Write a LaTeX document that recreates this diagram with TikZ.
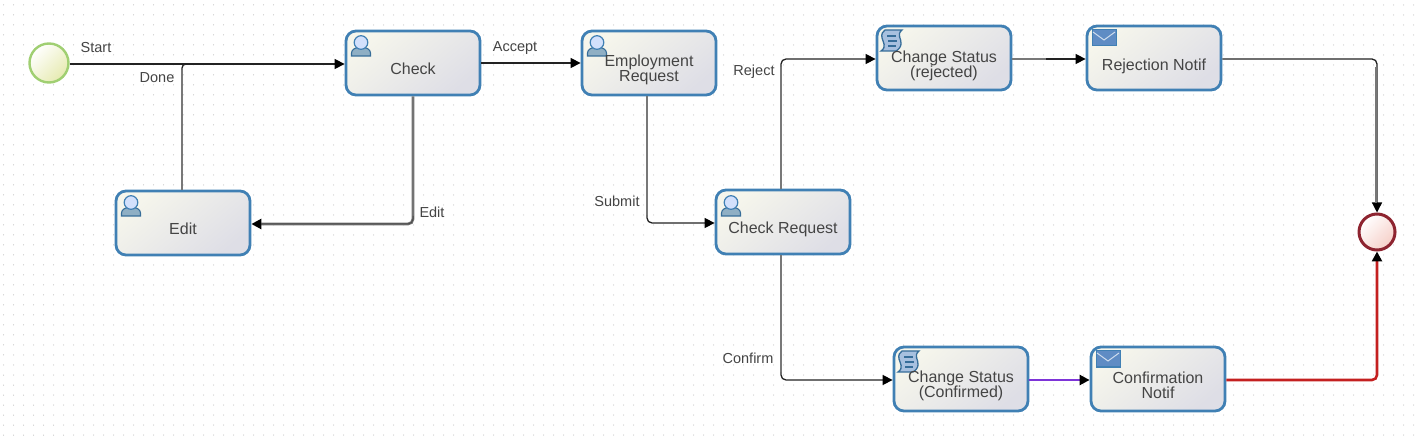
\documentclass[tikz,border=0pt]{standalone}
\usepackage{fontspec}
\setmainfont{Liberation Sans}
\usetikzlibrary{arrows.meta,calc}
\definecolor{taskblue}{HTML}{4080B4}
\definecolor{lineg}{HTML}{787878}
\definecolor{lined}{HTML}{222222}
\definecolor{txt}{HTML}{444444}
\definecolor{iconfill}{HTML}{5F8CC4}
\definecolor{bodyfill}{HTML}{8FAFC4}
\definecolor{headfill}{HTML}{D2E0FC}
\definecolor{cream}{HTML}{F6F6EC}
\definecolor{cool}{HTML}{DEDEE6}
\definecolor{startrim}{HTML}{A0CF72}
\definecolor{startfill}{HTML}{E6EAB0}
\definecolor{endrim}{HTML}{8E2430}
\definecolor{endfill}{HTML}{F6CFC8}
\definecolor{flowred}{HTML}{C42020}
\definecolor{flowviolet}{HTML}{7E34D8}
\tikzset{
  x=1pt,y=-1pt,
  task/.style={draw=taskblue,line width=2.8pt,rounded corners=10pt,minimum width=134pt,minimum height=64pt,
    left color=cream,right color=cool,shading angle=40,inner sep=0pt},
  tasktext/.style={inner sep=0pt,align=center,text=txt,font=\fontsize{16}{15}\selectfont},
  head/.style={-{Triangle[length=10pt,width=10pt,black]}},
  flow/.style={line width=1.3pt,draw=lined,rounded corners=5pt,head},
  graypart/.style={line width=2.4pt,draw=lineg},
  flab/.style={text=txt,font=\fontsize{14.5}{14.5}\selectfont,inner sep=0pt},
}
% person glyph of a user task
\newcommand{\usericon}[1]{%
  \begin{scope}[shift={(#1)}]
    \fill[fill=bodyfill,draw=taskblue!85!black,line width=1.1pt] (0,21) -- (0,18) .. controls (0,14) and (5,12.5) .. (7,12.5) -- (12,12.5) .. controls (14,12.5) and (19,14) .. (19,18) -- (19,21) -- cycle;
    \fill[fill=headfill,draw=taskblue,line width=1.2pt] (9.5,7.5) circle (6.8pt);
  \end{scope}}
% scroll glyph of a script task
\newcommand{\scripticon}[1]{%
  \begin{scope}[shift={(#1)}]
    \draw[fill=iconfill!55!white,draw=taskblue!85!black,line width=1.3pt] (4,0) -- (21,0) .. controls (15,5) and (21,9) .. (20,14) .. controls (20,17) and (17,20) .. (15,21) -- (0,21) .. controls (6,17) and (2,12) .. (1,8) .. controls (0,4) and (2,1) .. (4,0) -- cycle;
    \draw[taskblue!85!black,line width=1.3pt] (6,6) -- (15,6) (7,11) -- (16,11) (7,16) -- (15,16);
  \end{scope}}
% envelope glyph of a message task
\newcommand{\mailicon}[1]{%
  \begin{scope}[shift={(#1)}]
    \fill[iconfill,draw=taskblue,line width=1pt] (0,0) rectangle (24,16);
    \draw[white!70!iconfill,line width=1pt] (1,2) -- (12,10) -- (23,2);
  \end{scope}}
\begin{document}
\begin{tikzpicture}
\useasboundingbox (0,0) rectangle (1421,443);
\fill[white] (0,0) rectangle (1421,443);
% canvas dot grid
\foreach \gx in {0,...,141} \foreach \gy in {0,...,43}
  \fill[black!30] ({\gx*10+3.5},{\gy*10+5}) circle (0.5pt);

% tasks
\node[task] (check)   at (413,63)   {};
\node[task] (employ)  at (649,63)   {};
\node[task] (edit)    at (183,223)  {};
\node[task] (request) at (783,222)  {};
\node[task] (statusr) at (944,58)   {};
\node[task] (rejnote) at (1154,58)  {};
\node[task] (statusc) at (961,379)  {};
\node[task] (connote) at (1158,379) {};

% events
\node[circle,minimum size=39pt,inner sep=0pt,draw=startrim,line width=2.4pt,
  left color=white,right color=startfill,shading angle=45] (start) at (49,63) {};
\node[circle,minimum size=36pt,inner sep=0pt,draw=endrim,line width=3pt,
  left color=white,right color=endfill,shading angle=45] (finish) at (1377,232) {};

% task markers
\usericon{351.5,35}
\usericon{587.5,35}
\usericon{121.5,195}
\usericon{721.5,195}
\scripticon{881,30}
\scripticon{898,351}
\mailicon{1092,30}
\mailicon{1096,351}

% task captions
\node[tasktext] (tcheck)   at (413,68.5)   {Check};
\node[tasktext] (temploy)  at (649,70)     {Employment\\Request};
\node[tasktext] (tedit)    at (183,228.5)  {Edit};
\node[tasktext] (trequest) at (783,229.5)  {Check Request};
\node[tasktext] (tstatusr) at (944,65.5)   {Change Status\\(rejected)};
\node[tasktext] (trejnote) at (1154,66)    {Rejection Notif};
\node[tasktext] (tstatusc) at (961,386)    {Change Status\\(Confirmed)};
\node[tasktext] (tconnote) at (1158,385)   {Confirmation\\Notif};

% routing points
\coordinate (joint) at (182,64);
\coordinate (drop) at (413,224);
\coordinate (subdown) at (647,215);
\coordinate (rejup) at (781,67);
\coordinate (confdown) at (781,372);
\coordinate (rejright) at (1376,67);
\coordinate (rejhalf) at (1046,59);

% sequence flows: the base route in dark, vertical runs overdrawn in grey
\draw[line width=1.3pt,draw=lined,rounded corners=4pt] (edit.north -| joint) -- (joint) -- (200,64);
\draw[graypart] (edit.north -| joint) -- (182,70);
\draw[flow] (start.east |- 0,64) -- (check.west |- 0,64);
\draw[flow] (check.east |- 0,63) -- (employ.west |- 0,63);
\draw[flow,draw=black!55,line width=2.8pt] (check.south) -- (drop) -- (edit.east |- drop);
\draw[line width=1pt,draw=black!70,rounded corners=5pt] (413,216) -- (drop) -- (262,224);
\draw[flow] (employ.south -| 647,0) |- (request.west |- 0,223);
\draw[graypart] (employ.south -| 647,0) -- (subdown);
\draw[flow] (request.north -| 781,0) |- (statusr.west |- 0,59);
\draw[graypart] (request.north -| 781,0) -- (rejup);
\draw[flow] (request.south -| 781,0) |- (statusc.west |- 0,380);
\draw[graypart] (request.south -| 781,0) -- (confdown);
\draw[flow] (statusr.east |- 0,59) -- (rejnote.west |- 0,59);
\draw[graypart] (statusr.east |- 0,59) -- (rejhalf);
\draw[flow] (rejnote.east |- 0,59) -| (finish.north);
\draw[graypart] (rejright) -- (1376,203);
\draw[flow,line width=2.8pt,draw=flowviolet] (statusc.east |- 0,380) -- (connote.west |- 0,380);
\draw[flow,draw=flowred,line width=2.6pt] (connote.east |- 0,380) -| (finish.south);

% flow labels
\node[flab] (lstart)   at (96,48)   {Start};
\node[flab] (ldone)    at (157,78)  {Done};
\node[flab] (laccept)  at (515,48)  {Accept};
\node[flab] (ledit)    at (432,212) {Edit};
\node[flab] (lsubmit)  at (617,201) {Submit};
\node[flab] (lreject)  at (754,72)  {Reject};
\node[flab] (lconfirm) at (748,358) {Confirm};
\end{tikzpicture}
\end{document}
